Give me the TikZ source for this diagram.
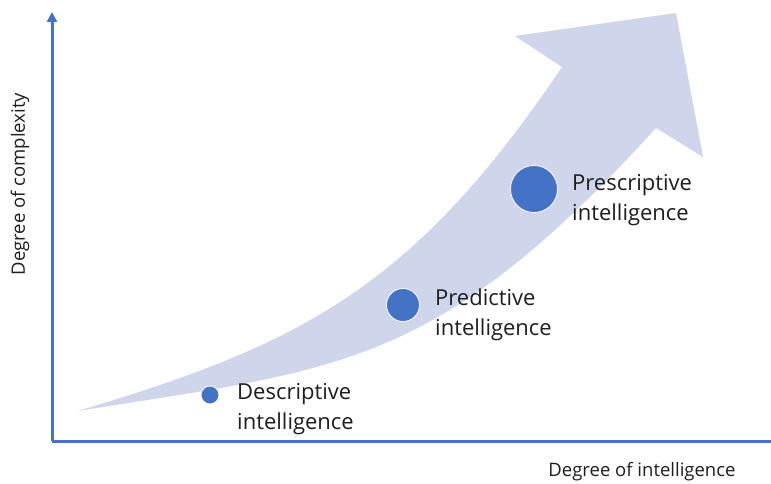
\documentclass[tikz,border=0pt]{standalone}
\usepackage{fontspec}
\setmainfont{Open Sans}
\usetikzlibrary{arrows.meta}
\definecolor{axisblue}{HTML}{4472C4}
\definecolor{arrowfill}{HTML}{CFD5EA}
\definecolor{txt}{HTML}{1E1E1E}
\begin{document}
\begin{tikzpicture}[x=1pt,y=-1pt,dot/.style={circle, fill=axisblue, draw=white, line width=0.8pt, inner sep=0pt},lbl/.style={anchor=west, align=left, text=txt, font=\fontsize{22}{30}\selectfont, inner sep=0pt},axlbl/.style={text=txt, font=\fontsize{18.5}{22}\selectfont, inner sep=0pt}]
  \useasboundingbox (0,0) rectangle (771,484);

  \coordinate (o) at (52,441);
  \coordinate (ytop) at (52,12);
  \coordinate (xend) at (771,441);

  % big curved arrow
  \fill[arrowfill] (78,411) .. controls (298,345) and (412,290) .. (562,67)
    -- (515,36) -- (676,13) -- (703,157) -- (656,128)
    .. controls (436,370) and (338,369) .. (78,411) -- cycle;

  \draw[axisblue, line width=3pt, -{Triangle[width=10pt,length=10pt]}] (o) -- (ytop);
  \draw[axisblue, line width=3pt] (o) -- (xend);

  \node[dot, minimum size=18pt] (desc) at (210,395) {};
  \node[dot, minimum size=33pt] (pred) at (403,305) {};
  \node[dot, minimum size=47pt] (presc) at (534,189) {};

  \node[lbl] (descl) at (237,409) {Descriptive\\intelligence};
  \node[lbl] (predl) at (435,315) {Predictive\\intelligence};
  \node[lbl] (prescl) at (572,200) {Prescriptive\\intelligence};

  \node[axlbl] (xl) at (642,472) {Degree of intelligence};
  \node[axlbl, rotate=90] (yl) at (20,184) {Degree of complexity};
\end{tikzpicture}
\end{document}
